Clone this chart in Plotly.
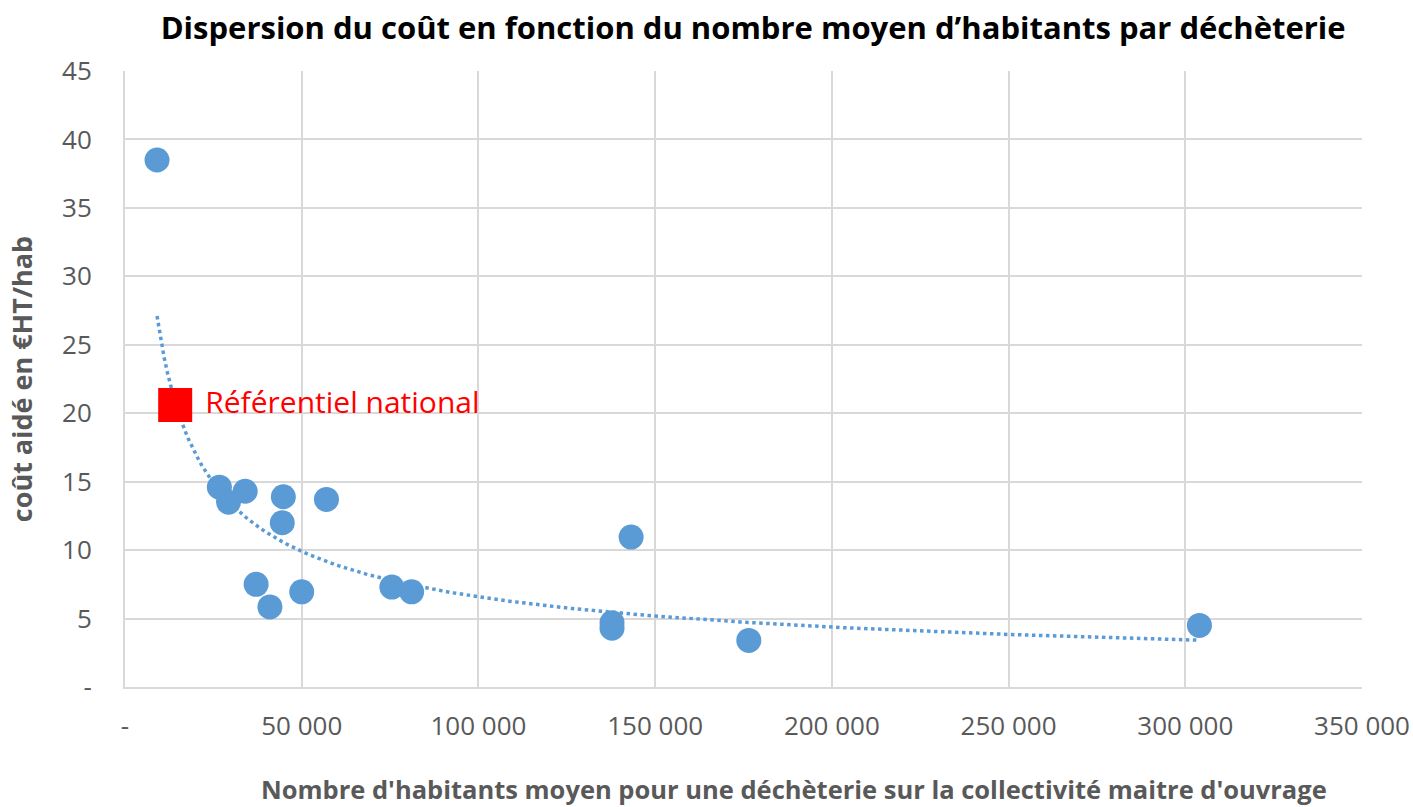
import numpy as np
import plotly.graph_objects as go

# Data
habitants = [9060, 26700, 29300, 34000, 44800, 44500, 57000, 37100, 41000, 50000,
             75500, 81100, 137800, 137800, 143200, 176500, 304000]
cout = [38.5, 14.6, 13.5, 14.3, 13.9, 12.0, 13.7, 7.5, 5.85, 6.95,
        7.3, 6.95, 4.7, 4.3, 10.95, 3.4, 4.5]
ref_x = [14200]
ref_y = [20.6]
ref_label = "Référentiel national"

x_ticks = [0, 50000, 100000, 150000, 200000, 250000, 300000, 350000]
x_labels = ["-", "50 000", "100 000", "150 000", "200 000", "250 000", "300 000", "350 000"]
y_ticks = [0, 5, 10, 15, 20, 25, 30, 35, 40, 45]
y_labels = ["-", "5", "10", "15", "20", "25", "30", "35", "40", "45"]

title = "Dispersion du coût en fonction du nombre moyen d’habitants par déchèterie"
x_title = "Nombre d'habitants moyen pour une déchèterie sur la collectivité maitre d'ouvrage"
y_title = "coût aidé en €HT/hab"

# Power trendline (least squares in log-log space, as Excel does)
lx = np.log(np.array(habitants, dtype=float))
ly = np.log(np.array(cout, dtype=float))
b, ln_a = np.polyfit(lx, ly, 1)
tx = np.linspace(min(habitants), max(habitants), 300)
ty = np.exp(ln_a) * tx ** b

blue = "#5b9bd5"
grid = "#d9d9d9"
tick_col = "#595959"

fig = go.Figure()
fig.add_trace(go.Scatter(x=tx, y=ty, mode="lines",
                         line=dict(color=blue, width=3.5, dash="dot"),
                         hoverinfo="skip", showlegend=False))
fig.add_trace(go.Scatter(x=habitants, y=cout, mode="markers",
                         marker=dict(color=blue, size=25, line=dict(width=0)),
                         showlegend=False))
fig.add_trace(go.Scatter(x=ref_x, y=ref_y, mode="markers+text",
                         marker=dict(color="#ff0000", size=34, symbol="square", line=dict(width=0)),
                         text=[" " + ref_label], textposition="middle right",
                         textfont=dict(family="Open Sans", size=30, color="#ff0000"),
                         showlegend=False))

fig.update_layout(
    width=1413, height=807,
    paper_bgcolor="white", plot_bgcolor="white",
    margin=dict(l=125, r=51, t=71, b=120),
    title=dict(text=f"<b>{title}</b>", x=0.533, xanchor="center", y=0.965, yanchor="middle",
               font=dict(family="Open Sans", size=31, color="black")),
    xaxis=dict(range=[0, 350000], tickvals=x_ticks, ticktext=x_labels,
               showgrid=True, gridcolor=grid, gridwidth=1.5,
               showline=True, linecolor=grid, linewidth=2, zeroline=False,
               ticks="", ticklabelstandoff=15, automargin=False,
               tickfont=dict(family="Open Sans", size=26, color=tick_col)),
    yaxis=dict(range=[0, 45], tickvals=y_ticks, ticktext=y_labels,
               showgrid=True, gridcolor=grid, gridwidth=1.5,
               showline=True, linecolor=grid, linewidth=2, zeroline=False,
               ticks="", ticklabelstandoff=26, automargin=False,
               tickfont=dict(family="Open Sans", size=26, color=tick_col),
               title=dict(text=f"<b>{y_title}</b>", standoff=22,
                          font=dict(family="Open Sans", size=27, color=tick_col))),
    annotations=[dict(text=f"<b>{x_title}</b>", xref="paper", yref="paper",
                      x=0.541, y=-0.165, xanchor="center", yanchor="middle",
                      showarrow=False,
                      font=dict(family="Open Sans", size=25.5, color=tick_col))],
)

fig.write_html("out.html", config={"displayModeBar": False},
               post_script="document.body.style.margin='0';document.body.style.padding='0';")
